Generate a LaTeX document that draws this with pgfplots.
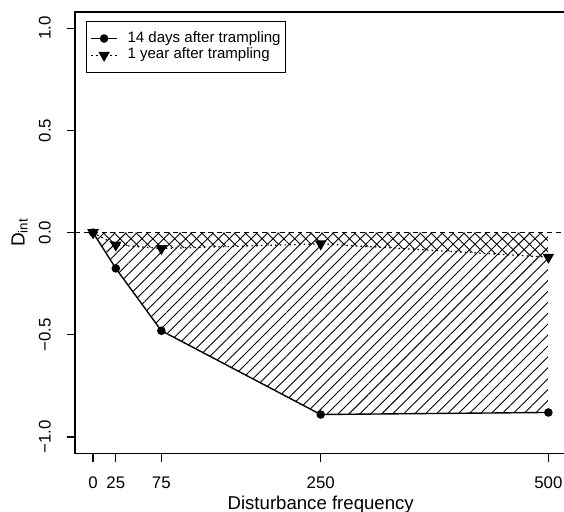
\documentclass[border=0pt]{standalone}
\usepackage{fontspec}
\setmainfont{Liberation Sans}
\usepackage{pgfplots}
\pgfplotsset{compat=1.18}
\usepgfplotslibrary{fillbetween}
\usetikzlibrary{patterns.meta}
\begin{document}
\begin{tikzpicture}
\begin{axis}[
  scale only axis, width=248.4pt, height=223pt,
  xmin=-20, xmax=520, ymin=-1.08, ymax=1.08,
  axis line style={line width=0.8pt},
  xtick={0,25,75,250,500},
  xticklabels={0,25,75,250,500},
  ytick={-1,-0.5,0,0.5,1},
  yticklabels={−1.0,−0.5,0.0,0.5,1.0},
  xtick pos=left, ytick pos=left,
  tick align=outside, major tick length=4.2pt,
  tick style={black, line width=0.6pt},
  xticklabel style={font=\fontsize{8.5}{10}\selectfont, anchor=base, inner sep=0pt, yshift=-13.5pt},
  yticklabel style={font=\fontsize{8.5}{10}\selectfont, xshift=-8pt, rotate=90, anchor=base, inner sep=0pt},
  xlabel={Disturbance frequency},
  ylabel={D\textsubscript{int}},
  xlabel style={font=\fontsize{9.4}{10}\selectfont, at={(axis description cs:0.5,-0.1278)}, anchor=base, inner sep=0pt},
  ylabel style={font=\fontsize{9.6}{10}\selectfont, at={(axis description cs:-0.1019,0.5)}, anchor=base, inner sep=0pt},
  legend style={at={(axis description cs:0.0229,0.9798)}, anchor=north west, draw=black, line width=0.5pt,
    font=\fontsize{7.6}{9}\selectfont, inner xsep=2pt, inner ysep=4.5pt, row sep=0pt,
    nodes={inner sep=0.5pt, text height=5.6pt, text depth=1.8pt},
    /tikz/every odd column/.append style={column sep=4.5pt}},
  legend cell align=left,
  legend image code/.code={\draw[mark repeat=2, mark phase=2, #1] plot coordinates {(0pt,0pt) (6.5pt,0pt) (13pt,0pt)};},
]
\addplot[name path=zero, draw=none, forget plot] coordinates {(0,0) (500,0)};
\addplot[name path=A, draw=none, forget plot] coordinates {(0,0) (25,-0.175) (75,-0.48) (250,-0.89) (500,-0.88)};
\addplot[name path=B, draw=none, forget plot] coordinates {(0,0) (25,-0.06) (75,-0.078) (250,-0.055) (500,-0.12)};
\addplot[forget plot, draw=none, pattern={Lines[angle=45,distance=3.9pt,line width=0.45pt]}] fill between[of=zero and A];
\addplot[forget plot, draw=none, pattern={Lines[angle=-45,distance=3.9pt,line width=0.45pt]}] fill between[of=zero and B];
\addplot[forget plot, black, line width=0.6pt, dash pattern=on 2.5pt off 2pt] coordinates {(-20,0) (520,0)};
\addplot[black, line width=0.7pt, mark=*, mark size=1.8pt] coordinates {(0,0) (25,-0.175) (75,-0.48) (250,-0.89) (500,-0.88)};
\addplot[black, line width=0.6pt, dash pattern=on 0.8pt off 1.6pt, mark=triangle*, mark options={rotate=180, solid}, mark size=2.8pt] coordinates {(0,0) (25,-0.06) (75,-0.078) (250,-0.055) (500,-0.12)};
\legend{14 days after trampling, 1 year after trampling}
\end{axis}
\pgfresetboundingbox
\path[use as bounding box] ([xshift=-37.8pt,yshift=-29.5pt]current axis.south west) rectangle ([xshift=-1.3pt,yshift=6pt]current axis.north east);
\end{tikzpicture}
\end{document}
